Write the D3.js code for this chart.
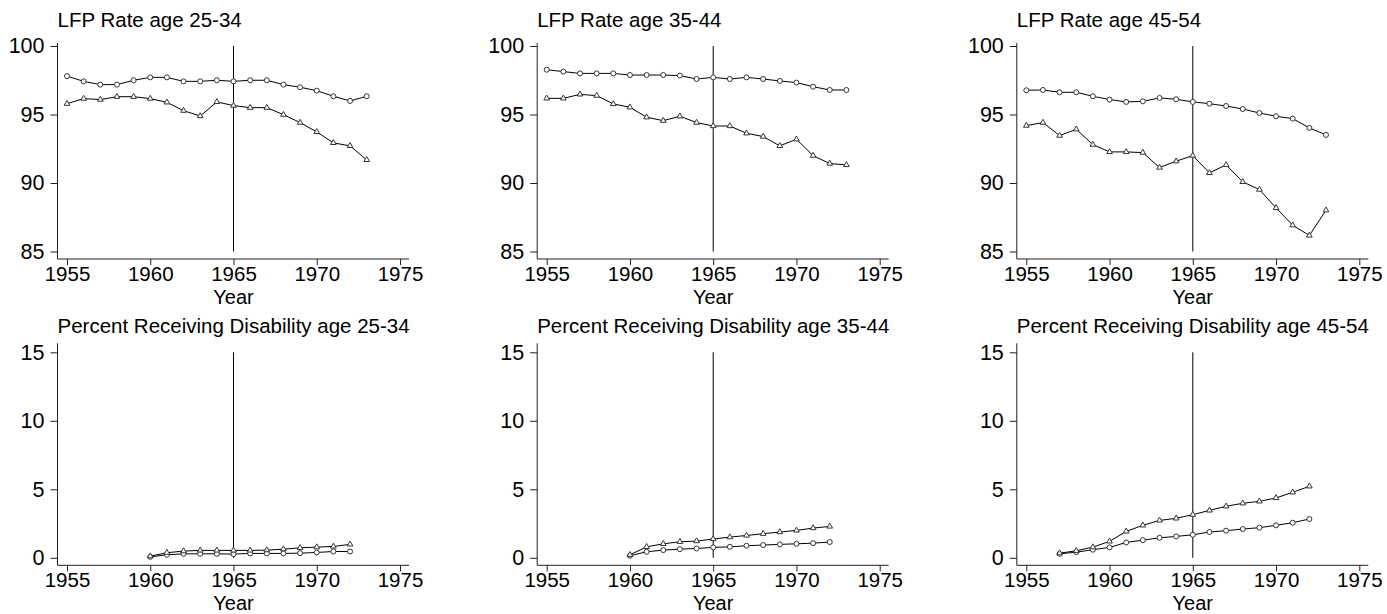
<!DOCTYPE html>
<html>
<head>
<meta charset="utf-8">
<script src="https://cdn.jsdelivr.net/npm/d3@7"></script>
<style>
  body { margin: 0; background: #fff; }
  svg text { font-family: "Liberation Sans", Arial, sans-serif; fill: #000; }
</style>
</head>
<body>
<div id="chart"></div>
<script>
        // data
        const lfpYears = [1955, 1956, 1957, 1958, 1959, 1960, 1961, 1962, 1963, 1964,
                          1965, 1966, 1967, 1968, 1969, 1970, 1971, 1972, 1973];

        const lfp2534Circle = [97.8, 97.42, 97.18, 97.18, 97.5, 97.71, 97.71, 97.42, 97.42, 97.5,
                               97.42, 97.5, 97.5, 97.18, 96.99, 96.74, 96.33, 95.99, 96.33];
        const lfp2534Tri = [95.79, 96.16, 96.09, 96.3, 96.3, 96.16, 95.89, 95.28, 94.89, 95.92,
                            95.65, 95.5, 95.5, 94.99, 94.41, 93.73, 92.93, 92.71, 91.69];

        const lfp3544Circle = [98.27, 98.13, 98.0, 98.0, 98.0, 97.88, 97.88, 97.88, 97.84, 97.59,
                               97.71, 97.59, 97.71, 97.59, 97.45, 97.33, 97.03, 96.79, 96.79];
        const lfp3544Tri = [96.18, 96.18, 96.47, 96.38, 95.77, 95.53, 94.8, 94.55, 94.87, 94.41,
                            94.16, 94.16, 93.63, 93.39, 92.71, 93.19, 92.0, 91.42, 91.32];

        const lfp4554Circle = [96.77, 96.79, 96.62, 96.62, 96.33, 96.09, 95.92, 95.96, 96.21, 96.11,
                               95.92, 95.79, 95.62, 95.4, 95.11, 94.87, 94.7, 94.02, 93.51];
        const lfp4554Tri = [94.19, 94.41, 93.46, 93.92, 92.8, 92.27, 92.27, 92.22, 91.13, 91.59,
                            92.0, 90.74, 91.32, 90.08, 89.52, 88.18, 86.92, 86.17, 88.01];

        const disYears6072 = [1960, 1961, 1962, 1963, 1964, 1965, 1966, 1967, 1968, 1969, 1970, 1971, 1972];
        const disYears5772 = [1957, 1958, 1959, 1960, 1961, 1962, 1963, 1964,
                              1965, 1966, 1967, 1968, 1969, 1970, 1971, 1972];

        const dis2534Circle = [0.07, 0.22, 0.29, 0.29, 0.29, 0.27, 0.32, 0.32, 0.32, 0.34, 0.39, 0.46, 0.46];
        const dis2534Tri = [0.12, 0.37, 0.49, 0.54, 0.54, 0.54, 0.54, 0.56, 0.63, 0.73, 0.78, 0.83, 0.98];

        const dis3544Circle = [0.15, 0.44, 0.56, 0.63, 0.68, 0.76, 0.8, 0.88, 0.93, 0.98, 1.02, 1.07, 1.15];
        const dis3544Tri = [0.22, 0.8, 1.02, 1.17, 1.22, 1.37, 1.51, 1.63, 1.76, 1.88, 2.0, 2.17, 2.29];

        const dis4554Circle = [0.29, 0.41, 0.59, 0.76, 1.12, 1.29, 1.46, 1.56,
                               1.68, 1.88, 1.98, 2.1, 2.2, 2.37, 2.56, 2.83];
        const dis4554Tri = [0.34, 0.51, 0.78, 1.2, 1.93, 2.37, 2.73, 2.88,
                            3.15, 3.46, 3.76, 3.98, 4.12, 4.37, 4.78, 5.22];

        const xTicks = [1955, 1960, 1965, 1970, 1975];
        const lfpTicks = [85, 90, 95, 100];
        const disTicks = [0, 5, 10, 15];
        const cutoffYear = 1965;

        const panels = [
            { title: "LFP Rate age 25-34", years: lfpYears, circle: lfp2534Circle, tri: lfp2534Tri, ticks: lfpTicks, row: 0, col: 0 },
            { title: "LFP Rate age 35-44", years: lfpYears, circle: lfp3544Circle, tri: lfp3544Tri, ticks: lfpTicks, row: 0, col: 1 },
            { title: "LFP Rate age 45-54", years: lfpYears, circle: lfp4554Circle, tri: lfp4554Tri, ticks: lfpTicks, row: 0, col: 2 },
            { title: "Percent Receiving Disability age 25-34", years: disYears6072, circle: dis2534Circle, tri: dis2534Tri, ticks: disTicks, row: 1, col: 0 },
            { title: "Percent Receiving Disability age 35-44", years: disYears6072, circle: dis3544Circle, tri: dis3544Tri, ticks: disTicks, row: 1, col: 1 },
            { title: "Percent Receiving Disability age 45-54", years: disYears5772, circle: dis4554Circle, tri: dis4554Tri, ticks: disTicks, row: 1, col: 2 }
        ];

        const width = 1387;
        const height = 614;

        const svg = d3.select("#chart").append("svg")
            .attr("width", width)
            .attr("height", height);

        const colX = [67, 546.7, 1026.3];   // pixel of 1955 in each column
        const plotW = 333;                  // 1955 -> 1975
        const rowTop = [46, 352.3];         // pixel of top tick
        const plotH = 205.5;                // top tick -> bottom tick
        const pad = 9;

        const triangle = d3.symbol().type(d3.symbolTriangle).size(14);

        function drawPanel(p) {
            const x0 = colX[p.col];
            const yTop = rowTop[p.row];
            const x = d3.scaleLinear().domain([1955, 1975]).range([x0, x0 + plotW]);
            const y = d3.scaleLinear()
                .domain([p.ticks[0], p.ticks[p.ticks.length - 1]])
                .range([yTop + plotH, yTop]);

            const axisX = x0 - pad - 0.5;
            const axisY = yTop + plotH + 7.5;

            const g = svg.append("g");

            // title
            g.append("text")
                .attr("x", axisX)
                .attr("y", yTop - 19)
                .attr("font-size", 20.5)
                .text(p.title);

            // axis lines
            g.append("line")
                .attr("x1", axisX).attr("x2", axisX)
                .attr("y1", yTop - (p.row === 0 ? 3 : 9)).attr("y2", axisY)
                .attr("stroke", "#222");
            g.append("line")
                .attr("x1", axisX).attr("x2", x0 + plotW + pad)
                .attr("y1", axisY).attr("y2", axisY)
                .attr("stroke", "#222");

            const yAxis = g.append("g")
                .attr("transform", `translate(${axisX},0)`)
                .call(d3.axisLeft(y).tickValues(p.ticks).tickSize(7).tickPadding(6).tickFormat(d3.format("d")));
            yAxis.select(".domain").remove();
            yAxis.selectAll(".tick text").attr("font-size", 21.5);

            const xAxis = g.append("g")
                .attr("transform", `translate(0,${axisY})`)
                .call(d3.axisBottom(x).tickValues(xTicks).tickSize(6).tickPadding(1).tickFormat(d3.format("d")));
            xAxis.select(".domain").remove();
            xAxis.selectAll(".tick text").attr("font-size", 20.5);

            g.selectAll(".tick line").attr("stroke", "#222");
            g.selectAll(".tick text")
                .attr("font-family", "'Liberation Sans', Arial, sans-serif")
                .attr("fill", "#000");

            // x title
            g.append("text")
                .attr("x", x(1965))
                .attr("y", axisY + 44.5)
                .attr("text-anchor", "middle")
                .attr("font-size", 20)
                .text("Year");

            // 1965 reference line
            g.append("line")
                .attr("x1", x(cutoffYear)).attr("x2", x(cutoffYear))
                .attr("y1", y.range()[1]).attr("y2", y.range()[0])
                .attr("stroke", "#000");

            const line = d3.line().x(d => x(d[0])).y(d => y(d[1]));
            const circlePts = p.years.map((yr, i) => [yr, p.circle[i]]);
            const triPts = p.years.map((yr, i) => [yr, p.tri[i]]);

            [circlePts, triPts].forEach(pts => {
                g.append("path")
                    .datum(pts)
                    .attr("d", line)
                    .attr("fill", "none")
                    .attr("stroke", "#000")
                    .attr("stroke-width", 1);
            });

            g.selectAll(".circ")
                .data(circlePts)
                .enter().append("circle")
                .attr("cx", d => x(d[0]))
                .attr("cy", d => y(d[1]))
                .attr("r", 2.5)
                .attr("fill", "#fff")
                .attr("stroke", "#333");

            g.selectAll(".tri")
                .data(triPts)
                .enter().append("path")
                .attr("d", triangle)
                .attr("transform", d => `translate(${x(d[0])},${y(d[1])})`)
                .attr("fill", "#fff")
                .attr("stroke", "#333");
        }

        panels.forEach(drawPanel);
</script>
</body>
</html>
